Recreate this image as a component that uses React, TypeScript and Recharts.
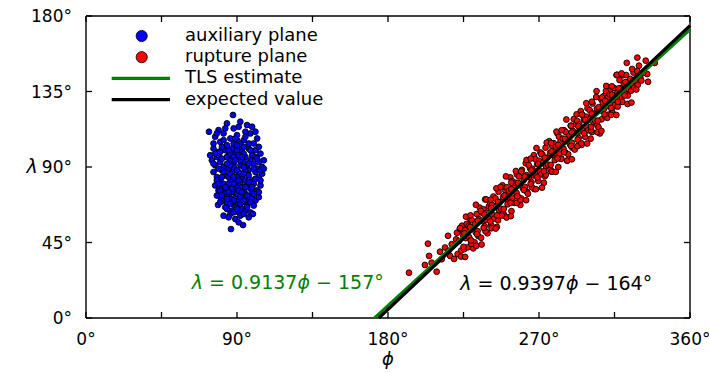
import React from "react";
import { ComposedChart, Scatter, XAxis, YAxis, ReferenceDot } from "recharts";

const W = 709;
const H = 373;
const FONT = "DejaVu Sans";

const xTicks = [0, 45, 90, 135, 180, 225, 270, 315, 360];
const yTicks = [0, 45, 90, 135, 180];

// auxiliary plane samples [phi, lambda]
const auxiliaryPlane: [number, number][] = [
  [87.6,121],[84,116],[92,117],[96,115],[79,112],[88,113],[99,114],[73.3,111],
  [77,108],[82,110],[86,107],[90,109],[94,106],[98,110],[102,107],[80,105],[95,111],[88,104],[84,103],[100,104],
  [76,101],[79,99],[83,100],[87,101],[91,102],[93,99],[97,101],[101,100],[104,98],[78,96],[85,97],[89,98],[95,96],[99,97],[81,102],[92,104],
  [75,94],[77,91],[80,93],[82,90],[86,94],[88,92],[90,95],[92,91],[94,93],[96,90],[98,94],[100,92],[103,93],[105,90],[84,96],[87,89],[91,97],[97,88],[101,96],[79,97],
  [76,87],[78,84],[81,88],[83,85],[85,89],[87,86],[89,83],[91,87],[93,84],[95,88],[97,85],[99,82],[101,87],[103,84],[105,86],[80,82],[86,82],[92,81],[102,89],[88,88],
  [77,79],[79,76],[82,80],[84,77],[86,79],[88,75],[90,78],[92,80],[94,76],[96,79],[98,77],[100,80],[102,76],[104,79],[83,74],[89,81],[95,74],[81,77],[99,75],
  [80,72],[82,70],[85,73],[87,69],[89,72],[91,70],[93,73],[95,69],[97,71],[99,72],[101,70],[84,68],[90,67],[96,67],[86,71],[92,68],[103,72],[78,73],
  [84,65],[87,64],[89,66],[91,63],[93,65],[95,64],[86,62],[92,61],[98,63],[82,61],[78.7,67.4],[99.5,62],
  [86.4,53],[93.6,55.4],
  [88,90],[90,88],[92,86],[86,91],[94,90],[90,84],[88,80],[92,94],[90,100],[86,98],[94,102],[90,106],[85,84],[95,82],[90,74],[88,96],[93,78],
  [78,110],[83,113],[91,114],[95,108],[101,111],[76,104],[82,106],[89,107],[97,104],[103,102],
  [77,98],[81,95],[85,100],[90,103],[94,98],[98,100],[102,95],[106,94],[74,97],[80,99],
  [76,92],[79,89],[84,92],[89,94],[93,96],[97,92],[100,89],[104,88],[82,87],[86,86],
  [78,82],[81,84],[85,80],[88,84],[91,82],[94,86],[97,81],[101,83],[104,82],[106,89],
  [79,80],[83,78],[87,77],[91,76],[95,78],[99,78],[103,75],[80,76],[85,75],[93,75],
  [81,73],[84,71],[88,70],[92,72],[96,73],[100,74],[98,69],[94,70],[86,68],[83,66],
  [88,63],[90,65],[94,62],[96,66],[85,60],[89,59],[91,57],[97,60],[100,67],[80,69],
];

// rupture plane samples [phi, lambda]
const rupturePlane: [number, number][] = [
  [192.5,27],[202,31.6],[203.8,44.3],[204.5,37],[209,27.6],[211,39.5],[215.8,49],[206,33],[212,35],[214,42],[217,37],[218,44],[216,40],
  [219.4,35.2],[220.6,46.9],[221.1,50.8],
  [221.5,38.1],[222.3,45.9],[222.8,53.2],
  [223.6,40.2],[224.5,49.8],[224.1,55.0],
  [225.4,41.0],[226.3,47.6],[226.9,56.1],[225.9,52.3],
  [227.5,42.1],[228.4,48.2],[228.1,54.9],[228.9,59.3],
  [229.3,46.2],[230.5,53.4],[229.9,58.3],[230.8,41.5],
  [231.6,45.1],[232.3,51.0],[232.0,56.2],[232.9,62.0],
  [233.4,51.8],[234.2,58.9],[234.7,65.8],[233.8,48.9],
  [235.5,47.8],[236.4,57.8],[236.1,62.8],[236.9,64.8],
  [237.6,54.7],[238.2,58.6],[238.8,62.7],[237.9,70.7],
  [239.3,50.5],[240.6,59.0],[240.1,66.5],[240.9,68.5],
  [241.5,55.4],[242.4,61.4],[242.0,67.4],[242.8,72.4],
  [243.4,59.3],[244.5,66.3],[244.1,71.3],[244.9,54.3],
  [245.6,58.2],[246.3,64.2],[246.8,69.2],[245.9,75.2],
  [247.4,65.1],[248.6,72.1],[248.2,79.1],[248.9,62.1],
  [249.5,60.9],[250.4,70.9],[250.0,75.9],[250.8,77.9],
  [251.3,67.8],[252.5,71.8],[252.1,75.8],[252.9,83.8],
  [253.6,63.7],[254.2,71.7],[254.8,78.7],[253.9,81.7],
  [255.4,68.6],[256.6,74.6],[256.1,80.6],[256.8,85.6],
  [257.5,72.4],[258.3,79.4],[258.0,84.4],[258.9,67.4],
  [259.3,71.3],[260.4,77.3],[260.9,82.3],[259.8,88.3],
  [261.6,78.2],[262.5,85.2],[262.1,92.2],[262.8,75.2],
  [263.4,74.1],[264.2,84.1],[264.7,89.1],[263.9,91.1],
  [265.5,81.0],[266.6,85.0],[266.0,89.0],[266.9,97.0],
  [267.3,76.8],[268.4,84.8],[268.9,91.8],[267.8,94.8],
  [269.6,81.7],[270.3,87.7],[270.1,93.7],[270.8,98.7],
  [271.4,85.6],[272.5,92.6],[272.0,97.6],[272.9,80.6],
  [273.5,84.5],[274.2,90.5],[274.8,95.5],[273.9,101.5],
  [275.3,91.4],[276.6,98.4],[276.1,105.4],[276.9,88.4],
  [277.6,87.2],[278.4,97.2],[278.0,102.2],[278.8,104.2],
  [279.4,94.1],[280.5,98.1],[280.1,102.1],[280.9,110.1],
  [281.5,90.0],[282.3,98.0],[282.8,105.0],[281.9,108.0],
  [283.3,94.9],[284.6,100.9],[284.2,106.9],[284.9,111.9],
  [285.6,98.8],[286.4,105.8],[286.0,110.8],[286.8,93.8],
  [287.4,97.6],[288.5,103.6],[288.1,108.6],[288.9,114.6],
  [289.5,104.5],[290.2,111.5],[290.7,118.5],[289.9,101.5],
  [291.3,100.4],[292.6,110.4],[292.1,115.4],[292.8,117.4],
  [293.6,107.3],[294.4,111.3],[294.0,115.3],[294.9,123.3],
  [295.4,103.2],[296.5,111.2],[296.8,118.2],[295.8,121.2],
  [297.5,108.0],[298.3,114.0],[298.1,120.0],[298.9,125.0],
  [299.3,111.9],[300.6,118.9],[300.2,123.9],[300.8,106.9],
  [301.6,110.8],[302.4,116.8],[302.9,121.8],[301.9,127.8],
  [303.4,117.7],[304.5,124.7],[304.1,131.7],[304.8,114.7],
  [305.5,113.6],[306.3,123.6],[306.3,110.0],[306.9,130.6],
  [307.3,118.4],[308.6,124.4],[308.0,128.4],[308.8,132.4],
  [309.6,120.3],[310.4,126.3],[310.9,131.3],[309.9,135.3],
  [311.4,121.2],[312.5,128.2],[312.1,133.2],[312.8,136.2],
  [313.5,124.1],[314.2,130.1],[314.7,137.1],[313.9,122.1],
  [315.3,127.0],[316.2,144.8],[316.6,134.0],[316.9,126.0],
  [317.6,130.8],[318.4,136.8],[318.0,141.8],[318.8,128.8],
  [319.4,131.7],[320.5,139.7],[320.1,144.7],[320.9,133.7],
  [321.5,133.6],[322.0,144.8],[322.6,140.6],[322.9,132.6],
  [323.3,136.5],[324.4,142.5],[324.9,135.5],
  [325.6,139.3],[326.3,146.3],[326.8,137.3],
  [327.4,141.2],[328.5,147.2],[328.9,139.0],
  [329.6,150.4],[330.4,143.1],[331.0,141.5],
  [333.6,153.4],[334.5,145.4],[335.0,140.8],[339,152],[332.0,146.0],
  [223.0,53.6],[223.5,36.6],[226.5,60.4],[226.0,36.4],[229.2,61.2],[229.6,44.2],
  [232.4,67.5],[232.7,43.0],[235.3,63.8],[235.8,43.8],[238.5,70.7],[238.1,51.7],
  [241.2,70.5],[241.7,53.5],[244.6,77.3],[244.2,53.3],[247.1,78.1],[247.8,61.1],
  [250.3,84.4],[250.7,59.9],[253.5,80.7],[253.2,60.7],[256.2,87.6],[256.8,68.6],
  [259.4,87.4],[259.0,70.4],[262.6,94.2],[262.3,70.2],[265.1,95.0],[265.7,78.0],
  [268.5,101.3],[268.2,76.8],[271.3,97.7],[271.8,77.7],[274.6,104.5],[274.1,85.5],
  [277.2,104.3],[277.7,87.3],[280.4,111.1],[280.0,87.1],[283.5,111.9],[283.2,94.9],
  [286.3,118.3],[286.9,93.8],[289.1,114.6],[289.6,94.6],[292.4,121.4],[292.9,102.4],
  [295.6,121.2],[295.2,104.2],[298.2,128.0],[298.7,104.0],[301.5,128.9],[301.1,111.9],
  [304.3,135.2],[304.9,110.7],[307.6,131.5],[307.2,111.5],[310.1,138.3],[310.7,119.3],
  [313.4,138.1],[313.0,121.1],[316.5,145.0],[316.1,121.0],[319.2,145.8],[319.7,128.8],
  [322.3,152.1],[322.8,127.6],[325.5,148.4],[325.1,128.4],[328.6,155.2],[328.0,136.2],
  [225.5,50.4],[225.0,42.4],[229.0,54.2],[229.5,46.2],[233.5,58.0],[233.0,50.0],
  [237.5,61.7],[237.0,53.7],[241.5,65.5],[241.0,57.5],[245.5,69.2],[245.0,61.2],
  [249.5,73.0],[249.0,65.0],[253.5,76.7],[253.0,68.7],[257.5,80.5],[257.0,72.5],
  [261.5,84.3],[261.0,76.3],[265.5,88.0],[265.0,80.0],[269.5,91.8],[269.0,83.8],
  [273.5,95.5],[273.0,87.5],[277.5,99.3],[277.0,91.3],[281.5,103.1],[281.0,95.1],
  [285.5,106.8],[285.0,98.8],[289.5,110.6],[289.0,102.6],[293.5,114.3],[293.0,106.3],
  [297.5,118.1],[297.0,110.1],[301.5,121.9],[301.0,113.9],[305.5,125.6],[305.0,117.6],
  [309.5,129.4],[309.0,121.4],[313.5,133.1],[313.0,125.1],[317.5,136.9],[317.0,128.9],
  [321.5,140.6],[321.0,132.6],
];

// fitted lines, endpoints [phi, lambda]
const tlsEstimate: [number, number][] = [[171.8, 0], [360, 171.9]];
const expectedValue: [number, number][] = [[174.5, 0], [360, 174.3]];

const legendLabels = ["auxiliary plane", "rupture plane", "TLS estimate", "expected value"];
const legendKinds = ["dot", "dot", "line", "line"];
const legendColors = ["#0000ff", "#ff0000", "#008000", "#000000"];

const toRows = (arr: [number, number][]) => arr.map(([phi, lambda]) => ({ phi, lambda }));

const dot = (color: string) => (p: any) => (
  <circle cx={p.cx} cy={p.cy} r={2.9} fill={color} stroke="#000" strokeWidth={0.9} />
);
const noShape = () => <g />;

const TICK_FONT = 17;

const BottomTick = (p: any) => {
  const v = p.payload.value;
  return (
    <g>
      <line x1={p.x} x2={p.x} y1={p.y} y2={p.y - 6} stroke="#000" strokeWidth={1.3} />
      {v % 90 === 0 && (
        <text x={p.x} y={p.y + 27} textAnchor="middle" fontFamily={FONT} fontSize={TICK_FONT} fill="#000">
          {v}°
        </text>
      )}
    </g>
  );
};
const TopTick = (p: any) => (
  <line x1={p.x} x2={p.x} y1={p.y} y2={p.y + 6} stroke="#000" strokeWidth={1.3} />
);
const LeftTick = (p: any) => (
  <g>
    <line x1={p.x} x2={p.x + 6} y1={p.y} y2={p.y} stroke="#000" strokeWidth={1.3} />
    <text x={p.x - 14} y={p.y + 6} textAnchor="end" fontFamily={FONT} fontSize={TICK_FONT} fill="#000">
      {p.payload.value}°
    </text>
  </g>
);
const RightTick = (p: any) => (
  <line x1={p.x} x2={p.x - 6} y1={p.y} y2={p.y} stroke="#000" strokeWidth={1.3} />
);

const eqLabel = (color: string, slope: string, icpt: string) => (p: any) => (
  <text x={p.viewBox.x} y={p.viewBox.y + 7} fontFamily={FONT} fontSize={19} fill={color}>
    <tspan fontStyle="italic">λ</tspan>
    <tspan> = {slope}</tspan>
    <tspan fontStyle="italic">ϕ</tspan>
    <tspan> − {icpt}°</tspan>
  </text>
);

export default function App() {
  return (
    <div style={{ position: "absolute", left: 0, top: 0, width: W, height: H, background: "#fff" }}>
      <ComposedChart width={W} height={H} margin={{ top: 15, right: 18, bottom: 0, left: 0 }}>
        <XAxis
          xAxisId="b"
          dataKey="phi"
          type="number"
          domain={[0, 360]}
          ticks={xTicks}
          interval={0}
          height={55}
          tickSize={0}
          tickMargin={0}
          tickLine={false}
          axisLine={{ stroke: "#000", strokeWidth: 1.4 }}
          tick={BottomTick}
          label={(p: any) => (
            <text
              x={p.viewBox.x + p.viewBox.width / 2}
              y={p.viewBox.y + 47}
              textAnchor="middle"
              fontFamily={FONT}
              fontSize={18}
              fontStyle="italic"
              fill="#000"
            >
              ϕ
            </text>
          )}
        />
        <XAxis
          xAxisId="t"
          orientation="top"
          dataKey="phi"
          type="number"
          domain={[0, 360]}
          ticks={xTicks}
          interval={0}
          height={1}
          tickSize={0}
          tickMargin={0}
          tickLine={false}
          axisLine={{ stroke: "#000", strokeWidth: 1.4 }}
          tick={TopTick}
        />
        <YAxis
          yAxisId="l"
          dataKey="lambda"
          type="number"
          domain={[0, 180]}
          ticks={yTicks}
          interval={0}
          width={86}
          tickSize={0}
          tickMargin={0}
          tickLine={false}
          axisLine={{ stroke: "#000", strokeWidth: 1.4 }}
          tick={LeftTick}
          label={(p: any) => (
            <text
              x={32}
              y={p.viewBox.y + p.viewBox.height / 2 + 6}
              textAnchor="middle"
              fontFamily={FONT}
              fontSize={19}
              fontStyle="italic"
              fill="#000"
            >
              λ
            </text>
          )}
        />
        <YAxis
          yAxisId="r"
          orientation="right"
          dataKey="lambda"
          type="number"
          domain={[0, 180]}
          ticks={yTicks}
          interval={0}
          width={1}
          tickSize={0}
          tickMargin={0}
          tickLine={false}
          axisLine={{ stroke: "#000", strokeWidth: 1.4 }}
          tick={RightTick}
        />
        <Scatter
          xAxisId="b"
          yAxisId="l"
          name="auxiliary plane"
          data={toRows(auxiliaryPlane)}
          shape={dot("#0000ff")}
          isAnimationActive={false}
        />
        <Scatter
          xAxisId="b"
          yAxisId="l"
          name="rupture plane"
          data={toRows(rupturePlane)}
          shape={dot("#ff0000")}
          isAnimationActive={false}
        />
        <Scatter
          xAxisId="b"
          yAxisId="l"
          name="TLS estimate"
          data={toRows(tlsEstimate)}
          line={{ stroke: "#008000", strokeWidth: 3 }}
          shape={noShape}
          isAnimationActive={false}
        />
        <Scatter
          xAxisId="b"
          yAxisId="l"
          name="expected value"
          data={toRows(expectedValue)}
          line={{ stroke: "#000000", strokeWidth: 3.2 }}
          shape={noShape}
          isAnimationActive={false}
        />
        <Scatter
          xAxisId="t"
          yAxisId="r"
          name="frame"
          data={toRows(expectedValue)}
          shape={noShape}
          isAnimationActive={false}
        />
        <ReferenceDot
          xAxisId="b"
          yAxisId="l"
          x={63}
          y={21.5}
          r={0}
          fill="none"
          stroke="none"
          label={eqLabel("#008000", "0.9137", "157")}
        />
        <ReferenceDot
          xAxisId="b"
          yAxisId="l"
          x={223}
          y={21}
          r={0}
          fill="none"
          stroke="none"
          label={eqLabel("#000000", "0.9397", "164")}
        />
      </ComposedChart>
      <svg
        width={260}
        height={100}
        style={{ position: "absolute", left: 100, top: 20, overflow: "visible" }}
      >
        {legendLabels.map((label, i) => {
          const cy = 16 + i * 21.2;
          return (
            <g key={label}>
              {legendKinds[i] === "dot" ? (
                <circle cx={41.7} cy={cy} r={5.6} fill={legendColors[i]} stroke="#000" strokeWidth={0.8} />
              ) : (
                <line x1={11.7} x2={70} y1={cy} y2={cy} stroke={legendColors[i]} strokeWidth={3.3} />
              )}
              <text x={85} y={cy + 5} fontFamily={FONT} fontSize={18} fill="#000">
                {label}
              </text>
            </g>
          );
        })}
      </svg>
    </div>
  );
}
